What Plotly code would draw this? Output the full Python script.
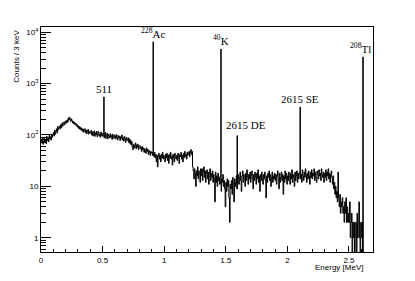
import numpy as np
import plotly.graph_objects as go

# ---------------- data ----------------
bin_width = 0.005  # MeV (display binning), rows of 0.1 MeV
counts = [
    80, 70, 86, 66, 76, 90, 72, 82, 68, 94, 78, 88, 74, 98, 84, 92, 80, 104, 90, 100,
    112, 96, 124, 104, 118, 132, 110, 146, 126, 138, 150, 132, 160, 140, 172, 150, 166, 180, 158, 176,
    188, 170, 196, 178, 214, 196, 222, 200, 184, 206, 190, 172, 182, 164, 176, 158, 168, 150, 160, 142,
    150, 134, 146, 128, 140, 124, 134, 118, 130, 114, 126, 132, 110, 124, 106, 120, 128, 104, 118, 112,
    108, 122, 100, 116, 96, 112, 120, 94, 110, 102, 118, 92, 108, 116, 96, 104, 90, 114, 98, 106,
    94, 110, 88, 104, 112, 86, 100, 108, 84, 102, 96, 88, 106, 90, 98, 82, 104, 92, 86, 100,
    96, 84, 102, 90, 80, 98, 88, 94, 78, 92, 86, 100, 80, 88, 76, 94, 84, 72, 90, 82,
    78, 88, 72, 84, 68, 80, 64, 74, 58, 52, 66, 56, 62, 70, 54, 64, 58, 66, 52, 60,
    62, 54, 58, 48, 60, 52, 56, 46, 54, 50, 44, 56, 48, 52, 42, 50, 46, 40, 48, 44,
    46, 40, 44, 38, 46, 36, 42, 30, 40, 24, 38, 44, 34, 40, 30, 42, 36, 46, 34, 40,
    38, 30, 42, 36, 44, 32, 40, 28, 42, 36, 46, 34, 38, 26, 42, 36, 30, 44, 38, 34,
    40, 32, 44, 36, 28, 42, 38, 46, 34, 40, 30, 44, 36, 48, 38, 42, 34, 46, 40, 44,
    48, 38, 46, 52, 42, 48, 24, 20, 14, 22, 18, 10, 20, 16, 24, 14, 20, 17, 12, 22,
    16, 22, 13, 19, 24, 15, 20, 12, 18, 21, 14, 19, 11, 17, 22, 13, 18, 15, 20, 12,
    17, 14, 5, 19, 12, 16, 10, 18, 13, 15, 11, 16, 8, 14, 12, 17, 10, 13, 9, 4,
    12, 8, 14, 10, 13, 6, 2, 11, 9, 13, 7, 15, 11, 5, 14, 10, 12, 16, 9, 14,
    17, 11, 15, 19, 13, 8, 16, 20, 12, 17, 14, 10, 18, 13, 21, 15, 11, 17, 14, 19,
    12, 16, 20, 14, 9, 17, 13, 19, 15, 11, 18, 14, 21, 12, 16, 8, 17, 13, 19, 15,
    11, 17, 14, 19, 13, 6, 16, 12, 18, 15, 20, 13, 17, 10, 15, 19, 12, 16, 14, 18,
    13, 17, 11, 16, 20, 14, 9, 18, 12, 15, 19, 13, 17, 7, 16, 12, 20, 14, 18, 11,
    16, 13, 19, 15, 11, 18, 14, 21, 12, 17, 15, 10, 19, 13, 16, 20, 12, 18, 14, 17,
    19, 14, 17, 12, 21, 16, 13, 19, 15, 22, 17, 12, 18, 14, 20, 16, 11, 19, 15, 21,
    14, 18, 16, 22, 13, 19, 15, 12, 20, 17, 14, 21, 16, 18, 13, 22, 17, 15, 19, 12,
    18, 15, 21, 13, 19, 16, 22, 14, 18, 12, 17, 20, 15, 11, 16, 9, 12, 7, 10, 6,
    8, 5, 19, 6, 4, 7, 3, 5, 4, 6, 3, 4, 2, 5, 3, 6, 2, 4, 2, 3,
    2, 5, 1, 2, 3, 0, 2, 1, 2, 0, 1, 2, 0, 3, 1, 2, 5, 1, 0, 2,
    1, 2, 0, 0, 0, 0, 0, 0, 0, 0, 0, 0, 0, 0, 0, 0, 0, 0, 0, 0,
]
peak_energy = [0.511, 0.911, 1.461, 1.593, 2.104, 2.614]
peak_counts = [550, 6500, 4700, 97, 350, 3300]
peak_labels = ["511", "<sup>228</sup>Ac", "<sup>40</sup>K",
               "2615 DE", "2615 SE", "<sup>208</sup>Tl"]
x_ticks = [0, 0.5, 1, 1.5, 2, 2.5]
x_tick_text = ["0", "0.5", "1", "1.5", "2", "2.5"]
y_tick_vals = [1, 10, 100, 1000, 10000]
y_tick_text = ["1", "10", "10<sup>2</sup>", "10<sup>3</sup>", "10<sup>4</sup>"]

# ---------------- build step path (peaks as narrow 3 keV bins) ----------------
peak_w = 0.003
n = len(counts)
edges = set(np.round(np.arange(n + 1) * bin_width, 6))
for e in peak_energy:
    edges.add(round(e - peak_w / 2, 6))
    edges.add(round(e + peak_w / 2, 6))
edges = sorted(edges)
xs, ys = [], []
for a, b in zip(edges[:-1], edges[1:]):
    mid = 0.5 * (a + b)
    val = None
    for e, h in zip(peak_energy, peak_counts):
        if abs(mid - e) < peak_w / 2:
            val = h
    if val is None:
        val = counts[min(int(mid / bin_width), n - 1)]
    xs.append(a)
    ys.append(val)
xs.append(edges[-1])
ys.append(ys[-1])
ys = np.array(ys, dtype=float)
ys_plot = np.where(ys > 0, ys, 1e-2)

fig = go.Figure()
fig.add_trace(go.Scatter(
    x=xs, y=ys_plot, mode="lines",
    line=dict(shape="hv", color="black", width=1),
    hoverinfo="skip", showlegend=False,
))

label_xshift = {"2615 DE": 9, "<sup>208</sup>Tl": -3}
label_yshift = {"2615 DE": 3}
for e, h, lab in zip(peak_energy, peak_counts, peak_labels):
    fig.add_annotation(
        x=e, y=np.log10(h), xref="x", yref="y", text=lab, showarrow=False,
        yanchor="bottom", xanchor="center",
        yshift=label_yshift.get(lab, 0),
        xshift=label_xshift.get(lab, 0),
        font=dict(family="Liberation Serif", size=11, color="black"),
    )

sans = dict(family="Liberation Sans", size=8, color="black")
fig.add_annotation(
    x=0.976, y=-0.067, xref="paper", yref="paper", text="Energy [MeV]",
    showarrow=False, xanchor="right", yanchor="middle", font=sans,
)
fig.add_annotation(
    x=-0.072, y=0.995, xref="paper", yref="paper", text="Counts / 3 keV",
    showarrow=False, xanchor="center", yanchor="top", textangle=-90, font=sans,
)

minor_y = [m * 10 ** k for k in range(-1, 5) for m in range(2, 10)]
fig.update_xaxes(
    range=[0, 2.695], showline=True, linecolor="black", linewidth=1, mirror=True,
    ticks="inside", tickvals=x_ticks, ticktext=x_tick_text, ticklen=6,
    tickcolor="black", tickwidth=1, automargin=False,
    minor=dict(ticks="inside", dtick=0.1, tick0=0, ticklen=3, tickcolor="black", tickwidth=1),
    showgrid=False, zeroline=False, tickfont=sans,
)
fig.update_yaxes(
    type="log", range=[np.log10(0.53), np.log10(12600)],
    showline=True, linecolor="black", linewidth=1, mirror=True,
    ticks="inside", tickvals=y_tick_vals, ticktext=y_tick_text, ticklen=10,
    tickcolor="black", tickwidth=1, automargin=False,
    minor=dict(ticks="inside", tickvals=minor_y, ticklen=5, tickcolor="black", tickwidth=1),
    showgrid=False, zeroline=False, tickfont=sans,
)
fig.update_layout(
    width=415, height=281,
    margin=dict(l=41, r=42, t=27, b=29),
    paper_bgcolor="white", plot_bgcolor="white",
    showlegend=False,
)
fig.write_html("out.html", config={"displayModeBar": False},
               post_script="document.body.style.margin='0px';")
